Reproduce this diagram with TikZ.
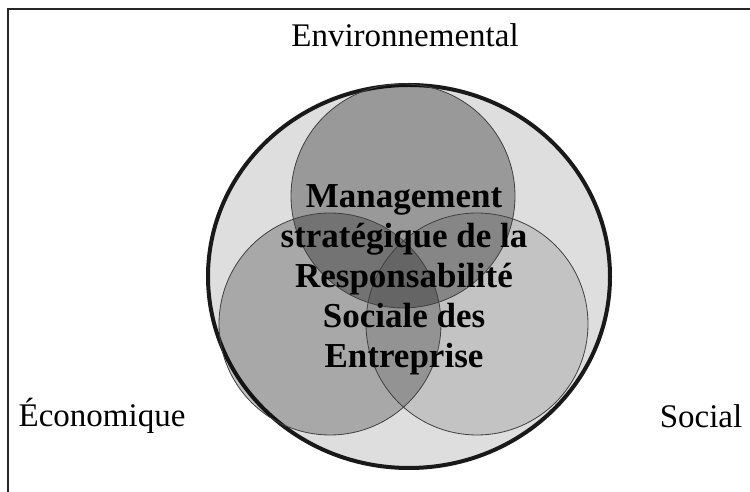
\documentclass[tikz,border=0pt]{standalone}
\usepackage{fontspec}
\setmainfont{Liberation Serif}
\usetikzlibrary{shapes.geometric}
\tikzset{
  frameline/.style={line width=1.5pt, draw=black!85},
  outer/.style={ellipse, line width=4pt, draw=black!90, fill=black!13, inner sep=0pt},
  setcircle/.style={circle, draw=black!75, line width=0.8pt, inner sep=0pt},
  label/.style={font=\fontsize{33}{38}\selectfont, anchor=base, inner sep=0pt},
  core/.style={font=\fontsize{35}{40}\selectfont\bfseries, anchor=base, inner sep=0pt}
}
\begin{document}
\begin{tikzpicture}[x=1pt,y=1pt]
\useasboundingbox (0,0) rectangle (750,492);
\coordinate (ftr) at (750,483);
\coordinate (ftl) at (8,483);
\coordinate (fbl) at (8,0);
\draw[frameline] (ftr) -- (ftl) -- (fbl);
\node[outer, minimum width=402pt, minimum height=383pt] (big) at (409,215.5) {};
\fill[black, fill opacity=0.24] (330,168) circle (111);
\fill[black, fill opacity=0.12] (477,168) circle (111);
\fill[black, fill opacity=0.31] (403,296) circle (112);
\node[setcircle, minimum size=222pt] (eco) at (330,168) {};
\node[setcircle, minimum size=222pt] (soc) at (477,168) {};
\node[setcircle, minimum size=224pt] (env) at (403,296) {};
\node[label] (lenv) at (405,445) {Environnemental};
\node[label] (leco) at (102,65) {Économique};
\node[label] (lsoc) at (701,64) {Social};
\node[core] (t1) at (404,284) {Management};
\node[core] (t2) at (404,244) {stratégique de la};
\node[core] (t3) at (404,204) {Responsabilité};
\node[core] (t4) at (404,164) {Sociale des};
\node[core] (t5) at (404,124) {Entreprise};
\end{tikzpicture}
\end{document}
